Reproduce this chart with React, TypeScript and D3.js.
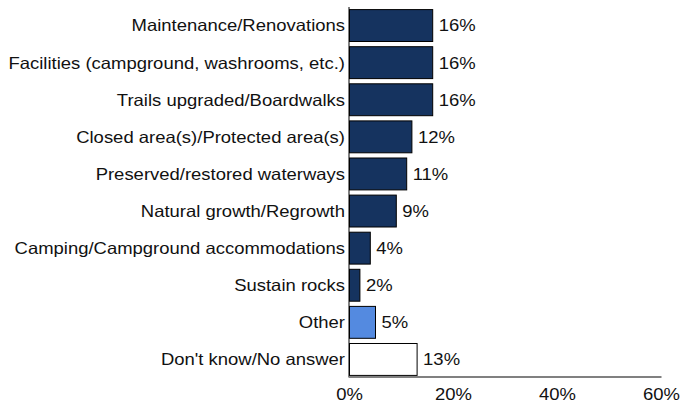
import { useRef, useEffect } from "react";
import * as d3 from "d3";

const categories = [
  "Maintenance/Renovations",
  "Facilities (campground, washrooms, etc.)",
  "Trails upgraded/Boardwalks",
  "Closed area(s)/Protected area(s)",
  "Preserved/restored waterways",
  "Natural growth/Regrowth",
  "Camping/Campground accommodations",
  "Sustain rocks",
  "Other",
  "Don't know/No answer",
];
const values = [16, 16, 16, 12, 11, 9, 4, 2, 5, 13];
const fills = ["#15335f", "#15335f", "#15335f", "#15335f", "#15335f", "#15335f", "#15335f", "#15335f", "#548ae0", "#ffffff"];
const xTicks = [0, 20, 40, 60];

const W = 683;
const H = 403;
const FONT = "'Liberation Sans', Arial, Helvetica, sans-serif";
const FS = 16.5;
const SX = 1.12; // text in the original is slightly stretched sideways

const App = () => {
  const ref = useRef<SVGSVGElement | null>(null);

  useEffect(() => {
    if (!ref.current) return;
    const svg = d3.select(ref.current);
    svg.selectAll("*").remove();

    const x = d3.scaleLinear().domain([0, 60]).range([349.5, 661.5]);
    const y = d3
      .scaleBand<string>()
      .domain(categories)
      .range([7, 378])
      .paddingInner(0.14)
      .paddingOuter(0.07);

    const rows = categories.map((c, i) => ({ c, v: values[i], f: fills[i] }));
    const mid = (c: string) => (y(c) ?? 0) + y.bandwidth() / 2;

    // bars
    svg
      .append("g")
      .selectAll("rect")
      .data(rows)
      .join("rect")
      .attr("x", x(0))
      .attr("y", (d) => y(d.c) ?? 0)
      .attr("width", (d) => x(d.v) - x(0))
      .attr("height", y.bandwidth())
      .attr("fill", (d) => d.f)
      .attr("stroke", "#000")
      .attr("stroke-width", 1);

    // value labels
    svg
      .append("g")
      .selectAll("text")
      .data(rows)
      .join("text")
      .attr("transform", (d) => `translate(${x(d.v) + 6},${mid(d.c)}) scale(${SX},1)`)
      .attr("dy", "0.36em")
      .attr("font-family", FONT)
      .attr("font-size", FS)
      .attr("fill", "#111")
      .text((d) => `${d.v}%`);

    // category labels
    svg
      .append("g")
      .selectAll("text")
      .data(rows)
      .join("text")
      .attr("transform", (d) => `translate(345,${mid(d.c)}) scale(${SX},1)`)
      .attr("dy", "0.36em")
      .attr("text-anchor", "end")
      .attr("font-family", FONT)
      .attr("font-size", FS)
      .attr("fill", "#111")
      .text((d) => d.c);

    // y axis line
    svg
      .append("line")
      .attr("x1", x(0) - 0.5)
      .attr("x2", x(0) - 0.5)
      .attr("y1", 7)
      .attr("y2", 377)
      .attr("stroke", "#000")
      .attr("stroke-width", 1);

    // x axis line
    svg
      .append("line")
      .attr("x1", x(0) - 1)
      .attr("x2", x(60))
      .attr("y1", 377)
      .attr("y2", 377)
      .attr("stroke", "#808080")
      .attr("stroke-width", 2);

    // x tick labels
    svg
      .append("g")
      .selectAll("text")
      .data(xTicks)
      .join("text")
      .attr("transform", (d) => `translate(${x(d)},399.5) scale(${SX},1)`)
      .attr("text-anchor", "middle")
      .attr("font-family", FONT)
      .attr("font-size", FS)
      .attr("fill", "#111")
      .text((d) => `${d}%`);
  }, []);

  return (
    <svg
      ref={ref}
      width={W}
      height={H}
      style={{ position: "absolute", left: 0, top: 0, background: "#fff" }}
    />
  );
};

export default App;
